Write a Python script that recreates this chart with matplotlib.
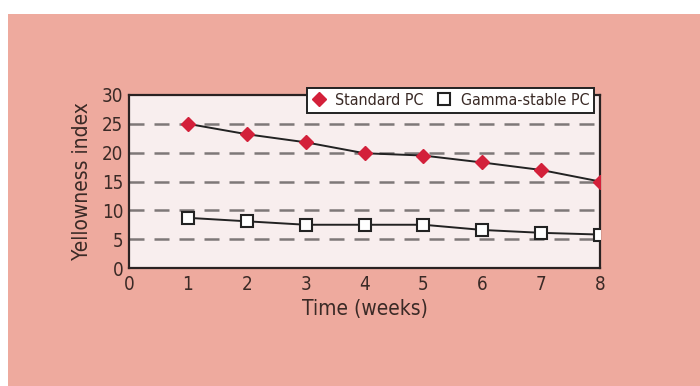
import matplotlib
matplotlib.use("Agg")
import matplotlib.pyplot as plt
from matplotlib.patches import Rectangle

weeks = [1, 2, 3, 4, 5, 6, 7, 8]
standard_pc = [25.0, 23.2, 21.8, 19.9, 19.5, 18.3, 17.0, 15.0]
gamma_stable_pc = [8.7, 8.1, 7.5, 7.5, 7.5, 6.6, 6.1, 5.8]
series_names = ["Standard PC", "Gamma-stable PC"]
x_ticks = [0, 1, 2, 3, 4, 5, 6, 7, 8]
y_ticks = [0, 5, 10, 15, 20, 25, 30]

plt.rcParams["font.family"] = ["DejaVu Sans"]
plt.rcParams["font.stretch"] = "condensed"
text_color = "#3a2a26"

fig = plt.figure(figsize=(7.0, 3.86), dpi=100)
fig.patch.set_facecolor("white")
fig.add_artist(Rectangle((8 / 700, 0), 1, 1 - 14 / 386, transform=fig.transFigure,
                         facecolor="#eeaa9e", edgecolor="none", zorder=0))

ax = fig.add_axes([129 / 700, 118 / 386, 471 / 700, 173 / 386])
ax.set_facecolor("#f8eeee")
for s in ax.spines.values():
    s.set_linewidth(1.6)
    s.set_color("#2a2222")

for y in y_ticks[1:-1]:
    ax.axhline(y, color="#7e7878", linewidth=1.8, dashes=(6, 4), zorder=1)

ax.plot(weeks, standard_pc, color="#222222", linewidth=1.4, marker="D",
        markersize=7.5, markerfacecolor="#d3203a", markeredgecolor="#d3203a",
        label=series_names[0], zorder=3)
ax.plot(weeks, gamma_stable_pc, color="#222222", linewidth=1.4, marker="s",
        markersize=8, markerfacecolor="white", markeredgecolor="#222222",
        markeredgewidth=1.5, label=series_names[1], zorder=3)

ax.set_xlim(0, 8)
ax.set_ylim(0, 30)
ax.set_xticks(x_ticks)
ax.set_yticks(y_ticks)
ax.tick_params(length=0, labelsize=13.5, colors=text_color, pad=5)
ax.tick_params(axis="y", pad=4)
ax.set_xlabel("Time (weeks)", fontsize=15, color=text_color, labelpad=4)
ax.set_ylabel("Yellowness index", fontsize=15, color=text_color, labelpad=7)

leg = ax.legend(loc="upper right", bbox_to_anchor=(594 / 700, 1 - 88 / 386),
                bbox_transform=fig.transFigure, ncol=2, fontsize=11.5,
                frameon=True, fancybox=False, handlelength=0.9,
                handletextpad=0.6, columnspacing=0.8, borderpad=0.3,
                borderaxespad=0)
for h in leg.legend_handles:
    h.set_linestyle("none")
frame = leg.get_frame()
frame.set_edgecolor("#222222")
frame.set_linewidth(1.4)
frame.set_facecolor("white")
frame.set_alpha(1)
for t in leg.get_texts():
    t.set_color(text_color)
leg.set_zorder(5)

fig.savefig("out.png", dpi=100, facecolor=fig.get_facecolor())
